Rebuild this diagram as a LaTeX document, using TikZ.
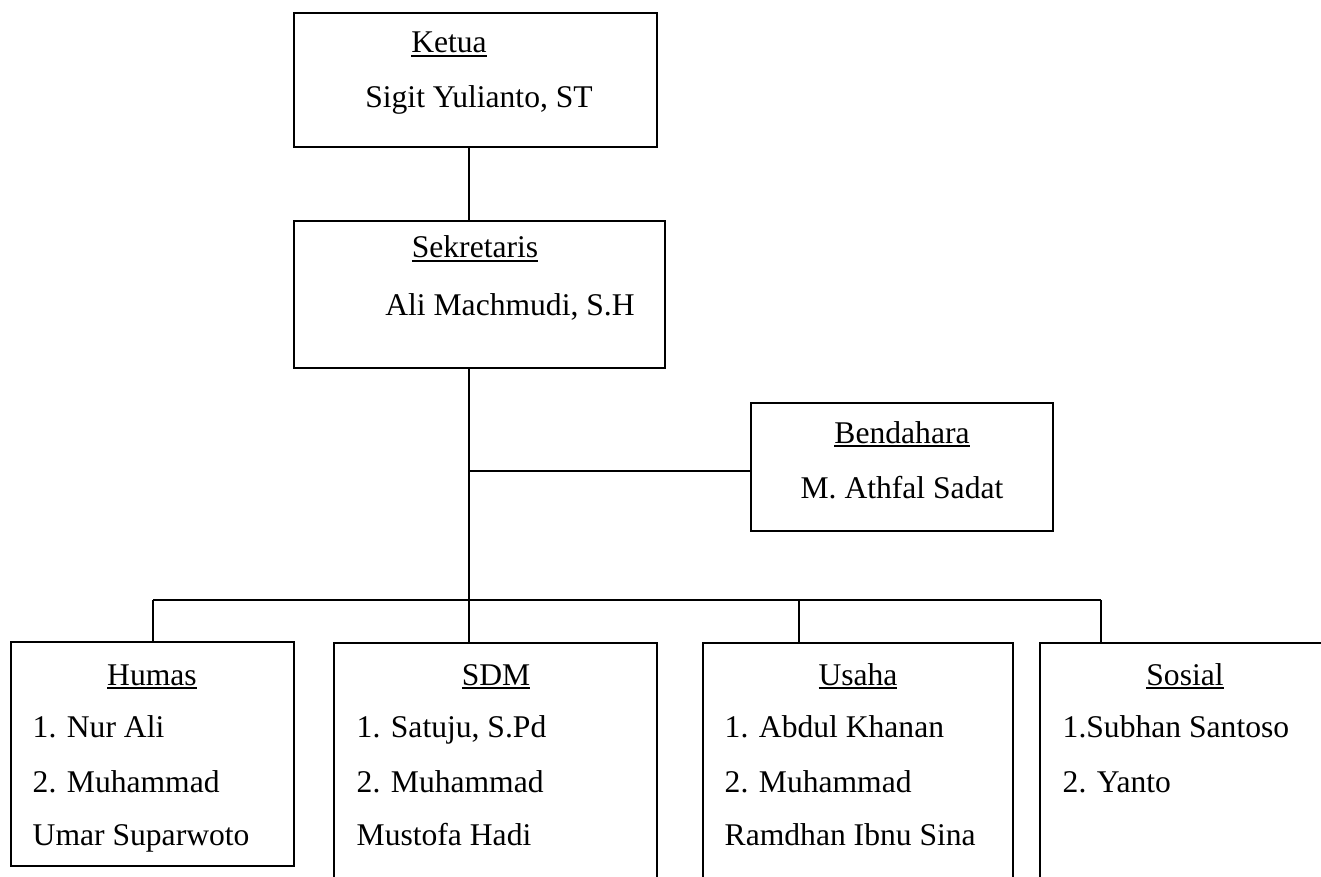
\documentclass[tikz,border=0pt]{standalone}
\usepackage{fontspec}
\setmainfont{Liberation Serif}
\newcommand{\headul}[1]{\setbox0\hbox{#1}\rlap{\rule[-4pt]{\wd0}{1.8pt}}\box0}
\begin{document}
\begin{tikzpicture}[x=1pt,y=-1pt,line width=1.4pt,font=\fontsize{31.6}{38}\selectfont,
  box/.style={draw,inner sep=0pt},
  head/.style={anchor=base,inner sep=0pt},
  item/.style={anchor=base west,inner sep=0pt}]
\clip (0,0) rectangle (1321,877);
% boxes
\node[box,minimum width=363,minimum height=134] (ketua) at (475.5,80) {};
\node[box,minimum width=371,minimum height=147] (sekre) at (479.5,294.5) {};
\node[box,minimum width=302,minimum height=128] (benda) at (902,467) {};
\node[box,minimum width=283,minimum height=224] (humas) at (152.5,754) {};
\node[box,minimum width=323,minimum height=257] (sdm) at (495.5,771.5) {};
\node[box,minimum width=310,minimum height=257] (usaha) at (858,771.5) {};
\node[box,minimum width=320,minimum height=257] (sosial) at (1200,771.5) {};
% texts
\node[head] (ketuaH) at (449,53) {\headul{Ketua}};
\node[head] (ketuaN) at (479,108) {Sigit Yulianto, ST};
\node[head] (sekreH) at (475,258) {\headul{Sekretaris}};
\node[head] (sekreN) at (510,315) {Ali Machmudi, S.H};
\node[head] (bendaH) at (902,443) {\headul{Bendahara}};
\node[head] (bendaN) at (902,498) {M. Athfal Sadat};
\node[head] (humasH) at (152,685) {\headul{Humas}};
\node[item] (humas1) at (32,737) {1. Nur Ali};
\node[item] (humas2) at (32,792) {2. Muhammad};
\node[item] (humas3) at (32,845) {Umar Suparwoto};
\node[head] (sdmH) at (496,685) {\headul{SDM}};
\node[item] (sdm1) at (356,737) {1. Satuju, S.Pd};
\node[item] (sdm2) at (356,792) {2. Muhammad};
\node[item] (sdm3) at (356,845) {Mustofa Hadi};
\node[head] (usahaH) at (858,685) {\headul{Usaha}};
\node[item] (usaha1) at (724,737) {1. Abdul Khanan};
\node[item] (usaha2) at (724,792) {2. Muhammad};
\node[item] (usaha3) at (724,845) {Ramdhan Ibnu Sina};
\node[head] (sosialH) at (1185,685) {\headul{Sosial}};
\node[item] (sosial1) at (1062,737) {1.Subhan Santoso};
\node[item] (sosial2) at (1062,792) {2. Yanto};
% connectors
\coordinate (spine) at (469,600);
\coordinate (tee) at (470,471);
\coordinate (busL) at (153,600);
\coordinate (busR) at (1101,600);
\draw (ketua.south -| spine) -- (sekre.north -| spine);
\draw (sekre.south -| spine) -- (sdm.north -| spine);
\draw (tee) -- (tee -| benda.west);
\draw (busL) -- (busR);
\foreach \n/\x in {humas/153,usaha/799,sosial/1101} {\draw (\x,600) -- (\n.north -| \x,600);}
\end{tikzpicture}
\end{document}
